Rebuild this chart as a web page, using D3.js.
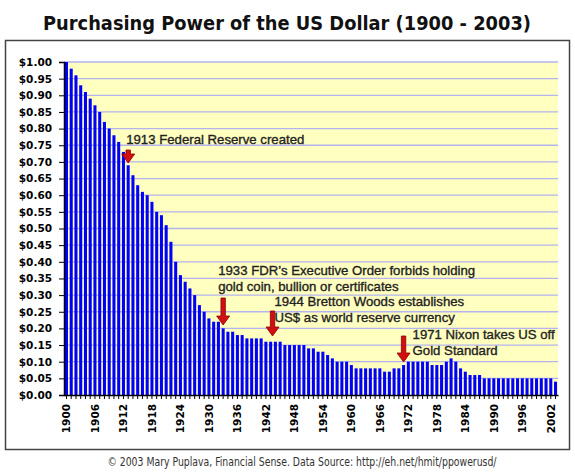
<!DOCTYPE html>
<html>
<head>
<meta charset="utf-8">
<script src="https://cdn.jsdelivr.net/npm/d3@7"></script>
<style>
  body { margin: 0; background: #fff; }
  svg { display: block; }
</style>
</head>
<body>
<svg id="chart" width="575" height="472"></svg>
<script>
// years shown on the x axis (one bar per year)
const years = d3.range(1900, 2004);

// purchasing power of $1 (1900 = $1.00)
const values = [
  1.00, 0.98, 0.96, 0.93, 0.91, 0.89, 0.87, 0.85, 0.82, 0.80,
  0.78, 0.76, 0.73, 0.69, 0.66, 0.63, 0.61, 0.60, 0.58, 0.55,
  0.54, 0.51, 0.46, 0.40, 0.36, 0.34, 0.32, 0.30, 0.27, 0.25,
  0.23, 0.22, 0.22, 0.20, 0.19, 0.19, 0.18, 0.18, 0.17, 0.17,
  0.17, 0.17, 0.16, 0.16, 0.16, 0.16, 0.15, 0.15, 0.15, 0.15,
  0.15, 0.14, 0.14, 0.13, 0.13, 0.12, 0.11, 0.10, 0.10, 0.10,
  0.09, 0.08, 0.08, 0.08, 0.08, 0.08, 0.08, 0.07, 0.07, 0.08,
  0.08, 0.09, 0.10, 0.10, 0.10, 0.10, 0.10, 0.09, 0.09, 0.09,
  0.10, 0.11, 0.10, 0.08, 0.07, 0.06, 0.06, 0.06, 0.05, 0.05,
  0.05, 0.05, 0.05, 0.05, 0.05, 0.05, 0.05, 0.05, 0.05, 0.05,
  0.05, 0.05, 0.05, 0.04
];

const yTicks = d3.range(0, 21).map(d => d * 0.05);
const xLabelYears = d3.range(1900, 2003, 6);

// annotation text lines and the year each arrow points at
const noteLines = [
  ["1913 Federal Reserve created"],
  ["1933 FDR\u2019s Executive Order forbids holding", "gold coin, bullion or certificates"],
  ["1944 Bretton Woods establishes", "US$ as world reserve currency"],
  ["1971 Nixon takes US off", "Gold Standard"]
];
const noteYears = [1913, 1933, 1943.4, 1971];

const svg = d3.select("#chart");
const margin = {top: 62, right: 17, bottom: 77, left: 64};
const width = 575, height = 472;

const x = d3.scaleBand()
  .domain(years)
  .range([margin.left, width - margin.right])
  .paddingInner(0.36)
  .paddingOuter(0.2);

const y = d3.scaleLinear()
  .domain([0, 1])
  .range([height - margin.bottom, margin.top]);

const xc = yr => {
  const base = Math.floor(yr);
  return x(base) + x.bandwidth() / 2 + (yr - base) * x.step();
};

// title - size it so it spans about 488px
const title = svg.append("text")
  .attr("x", 287)
  .attr("y", 30)
  .attr("text-anchor", "middle")
  .style("font-family", "'Liberation Sans Narrow', 'DejaVu Sans Condensed', 'Liberation Sans', sans-serif")
  .style("font-weight", "bold")
  .style("font-size", "24px")
  .style("fill", "#111")
  .text("Purchasing Power of the US Dollar (1900 - 2003)");
const tw = title.node().getComputedTextLength();
title.style("font-size", Math.min(26, 24 * 488 / tw).toFixed(2) + "px");

// frame
svg.append("rect")
  .attr("x", 5.5).attr("y", 40.5)
  .attr("width", 564).attr("height", 409)
  .attr("fill", "none")
  .attr("stroke", "#444")
  .attr("stroke-width", 1.5);

// plot background
svg.append("rect")
  .attr("x", margin.left)
  .attr("y", y(1))
  .attr("width", width - margin.right - margin.left)
  .attr("height", y(0) - y(1))
  .attr("fill", "#ffffc0");

// gridlines
svg.append("g")
  .selectAll("line")
  .data(yTicks.slice(1))
  .join("line")
  .attr("x1", margin.left)
  .attr("x2", width - margin.right)
  .attr("y1", d => y(d))
  .attr("y2", d => y(d))
  .attr("stroke", "#b4b4f0")
  .attr("stroke-width", 1.3);

// bars
svg.append("g")
  .selectAll("rect")
  .data(values)
  .join("rect")
  .attr("x", (d, i) => x(years[i]))
  .attr("y", d => y(d))
  .attr("width", x.bandwidth())
  .attr("height", d => y(0) - y(d))
  .attr("fill", "#0000ff");

// y axis
const yAxis = svg.append("g")
  .attr("transform", `translate(${margin.left},0)`)
  .call(d3.axisLeft(y)
    .tickValues(yTicks)
    .tickFormat(d3.format("$.2f"))
    .tickSize(5)
    .tickPadding(7));
yAxis.select(".domain").attr("stroke", "#000").attr("stroke-width", 1.5);
yAxis.selectAll(".tick line").attr("stroke", "#000");
yAxis.selectAll(".tick text")
  .style("font-family", "'DejaVu Sans', Verdana, sans-serif")
  .style("font-weight", "bold")
  .style("font-size", "10.5px")
  .style("fill", "#000");

// x axis
const xAxis = svg.append("g")
  .attr("transform", `translate(0,${y(0)})`)
  .call(d3.axisBottom(x)
    .tickValues(years)
    .tickFormat(d => xLabelYears.includes(d) ? d : "")
    .tickSize(4)
    .tickSizeOuter(0));
xAxis.select(".domain").attr("stroke", "#000").attr("stroke-width", 1.5);
xAxis.selectAll(".tick line").attr("stroke", "#000");
xAxis.selectAll(".tick text")
  .attr("transform", "rotate(-90)")
  .attr("text-anchor", "end")
  .attr("x", -9)
  .attr("y", 0)
  .attr("dy", "0.36em")
  .style("font-family", "'DejaVu Sans', Verdana, sans-serif")
  .style("font-weight", "bold")
  .style("font-size", "10.5px")
  .style("fill", "#000");

// annotations
const textPos = [
  {dx: -2, top: 144},
  {dx: -5, top: 275},
  {dx: 2, top: 306},
  {dx: 9, top: 339}
];
const arrowSpan = [
  [150, 163],
  [298, 325],
  [311, 336],
  [336, 362]
];

const notes = svg.append("g");
noteLines.forEach((lines, i) => {
  const ax = xc(noteYears[i]);
  const t = notes.append("text")
    .style("font-family", "'Liberation Sans', Arial, sans-serif")
    .style("font-size", "13.2px")
    .style("fill", "#222")
    .style("stroke", "#222")
    .style("stroke-width", 0.35);
  lines.forEach((line, j) => {
    t.append("tspan")
      .attr("x", ax + textPos[i].dx)
      .attr("y", textPos[i].top + j * 16)
      .text(line);
  });

  const [y0, y1] = arrowSpan[i];
  const head = 9, sw = 2.2, hw = 6.5;
  const path = d3.path();
  path.moveTo(ax - sw, y0);
  path.lineTo(ax + sw, y0);
  path.lineTo(ax + sw, y1 - head);
  path.lineTo(ax + hw, y1 - head);
  path.lineTo(ax, y1);
  path.lineTo(ax - hw, y1 - head);
  path.lineTo(ax - sw, y1 - head);
  path.closePath();
  notes.append("path")
    .attr("d", path.toString())
    .attr("fill", "#d01010")
    .attr("stroke", "#8a0000")
    .attr("stroke-width", 0.8);
});

// footer
svg.append("text")
  .attr("x", 302)
  .attr("y", 466)
  .attr("text-anchor", "middle")
  .attr("textLength", 389)
  .attr("lengthAdjust", "spacingAndGlyphs")
  .style("font-family", "'Liberation Sans Narrow', 'DejaVu Sans Condensed', 'Liberation Sans', sans-serif")
  .style("font-size", "11.5px")
  .style("fill", "#333")
  .text("\u00a9 2003 Mary Puplava, Financial Sense. Data Source:  http://eh.net/hmit/ppowerusd/");
</script>
</body>
</html>
